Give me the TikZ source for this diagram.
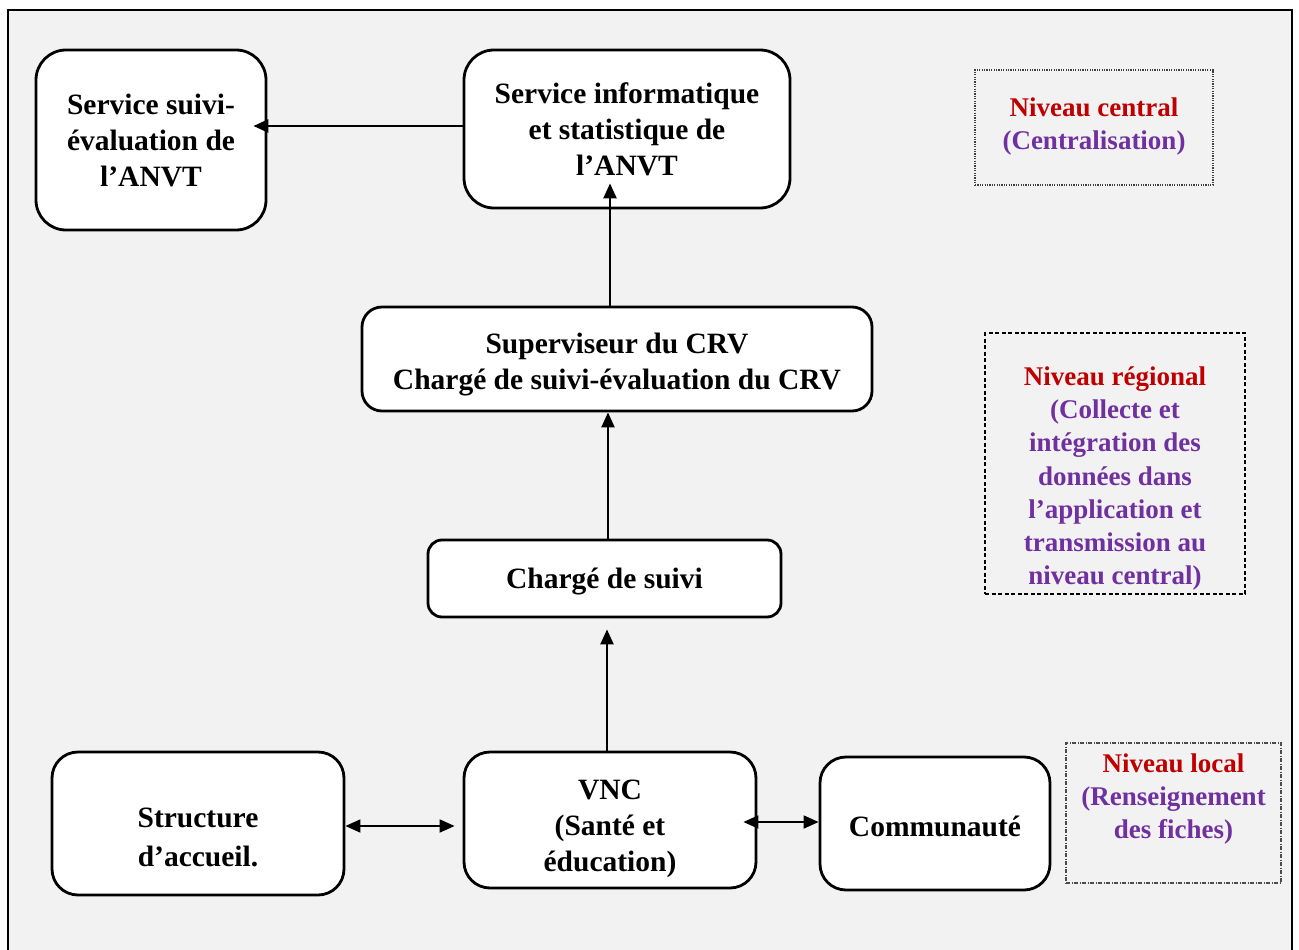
\documentclass[tikz,border=0pt]{standalone}
\usepackage{fontspec}
\setmainfont{Liberation Serif}
\usetikzlibrary{arrows.meta}
\definecolor{bgray}{HTML}{F2F2F2}
\definecolor{nred}{HTML}{C00000}
\definecolor{npurple}{HTML}{7030A0}
\begin{document}
\begin{tikzpicture}[x=1pt,y=-1pt,
  box/.style={draw=black,fill=white,line width=2.8pt,inner sep=0pt,align=center,
    font=\fontsize{29.5}{36}\selectfont\bfseries},
  boxtext/.style={inner sep=0pt,align=center,font=\fontsize{29.5}{36}\selectfont\bfseries},
  arr/.style={line width=2.3pt,-{Triangle[length=15pt,width=13pt]}},
  arrtwo/.style={line width=1.8pt,{Triangle[length=15pt,width=13pt]}-{Triangle[length=15pt,width=13pt]}},
  lvl/.style={align=center,inner sep=0pt,font=\fontsize{27}{33.2}\selectfont\bfseries},
]
\useasboundingbox (0,0) rectangle (1299,950);
\clip (0,0) rectangle (1299,950);
\fill[white] (0,0) rectangle (1299,950);
\draw[fill=bgray,line width=2pt] (8,10) rectangle (1292,970);

% main boxes
\node[box,rounded corners=30pt,minimum width=230pt,minimum height=180pt] (A) at (151,140)
  {Service suivi-\\évaluation de\\l’ANVT};
\node[box,rounded corners=30pt,minimum width=326pt,minimum height=158pt] (B) at (627,129)
  {Service informatique\\et statistique de\\l’ANVT};
\node[box,rounded corners=20pt,minimum width=510pt,minimum height=104pt] (C) at (617,359) {};
\node[boxtext] (Ct) at ([yshift=-6pt]C.center) {Superviseur du CRV\\Chargé de suivi-évaluation du CRV};
\node[box,rounded corners=14pt,minimum width=353pt,minimum height=77pt] (D) at (604.5,578.5) {};
\node[boxtext] (Dt) at ([yshift=-3pt]D.center) {Chargé de suivi};
\node[box,rounded corners=26pt,minimum width=292pt,minimum height=143pt] (E) at (198,823.5) {};
\node[boxtext] (Et) at ([yshift=-14pt]E.center) {Structure\\[3pt]d’accueil.};
\node[box,rounded corners=26pt,minimum width=292pt,minimum height=136pt] (F) at (610,820) {};
\node[boxtext] (Ft) at ([yshift=-9pt]F.center) {VNC\\(Santé et\\éducation)};
\node[box,rounded corners=26pt,minimum width=230pt,minimum height=133pt] (G) at (935,823.5) {};
\node[boxtext] (Gt) at ([yshift=-3pt]G.center) {Communauté};

% level boxes
\node[draw=black!75,line width=1.4pt,dash pattern=on 1.2pt off 1.2pt,
  minimum width=238pt,minimum height=115pt] (L1) at (1094,127.5) {};
\node[lvl] (T1) at ([yshift=1pt]L1.center) {\textcolor{nred}{Niveau central}\\\textcolor{npurple}{(Centralisation)}};

\node[draw=black,line width=1.6pt,dash pattern=on 4pt off 2.5pt,
  minimum width=260pt,minimum height=261pt] (L2) at (1115,463.5) {};
\node[lvl] (T2) at ([yshift=-15pt]L2.center) {\textcolor{nred}{Niveau régional}\\\textcolor{npurple}{(Collecte et}\\
  \textcolor{npurple}{intégration des}\\\textcolor{npurple}{données dans}\\
  \textcolor{npurple}{l’application et}\\\textcolor{npurple}{transmission au}\\
  \textcolor{npurple}{niveau central)}};

\node[draw=black!70,line width=1.3pt,dash pattern=on 4pt off 1.5pt on 1pt off 1.5pt,
  minimum width=215pt,minimum height=140pt] (L3) at (1173.5,813) {};
\node[lvl,anchor=north] (T3) at ([yshift=-11pt]L3.north) {\textcolor{nred}{Niveau local}\\\textcolor{npurple}{(Renseignement}\\
  \textcolor{npurple}{des fiches)}};

% connectors
\draw[arr] (B.west |- 0,126) -- ([xshift=-14pt]A.east |- 0,126);
\draw[arr] ([xshift=-7pt]C.north) -- ([xshift=-17pt,yshift=26pt]B.south);
\draw[arr] ([xshift=3.5pt]D.north) -- ([xshift=-9pt]C.south);
\draw[arr] ([xshift=-3pt]F.north) -- ([xshift=2.5pt,yshift=-11pt]D.south);
\draw[arrtwo] ([yshift=-2.5pt]E.east) -- ([xshift=-8pt,yshift=-6pt]F.west);
\draw[arrtwo] ([xshift=-14pt,yshift=-2pt]F.east) -- ([yshift=1.5pt]G.west);
\end{tikzpicture}
\end{document}
